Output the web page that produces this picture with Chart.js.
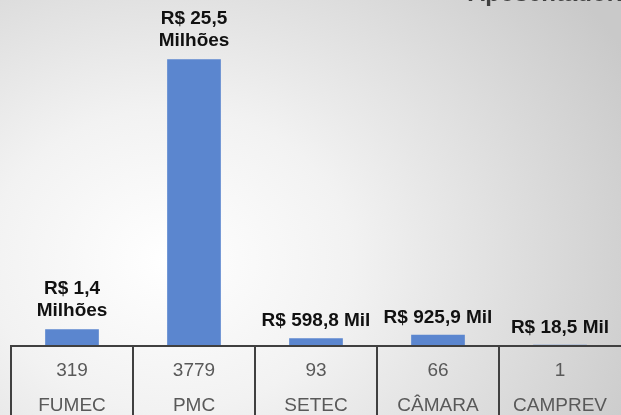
<!DOCTYPE html>
<html>
<head>
<meta charset="utf-8">
<script src="https://cdn.jsdelivr.net/npm/chart.js@4"></script>
<style>
  html, body { margin: 0; padding: 0; }
  body {
    width: 621px; height: 415px; overflow: hidden;
    background: radial-gradient(ellipse 520px 430px at 170px 260px, #ffffff 0%, #f2f2f2 35%, #c9c9c9 100%);
  }
  #wrap { width: 621px; height: 415px; }
</style>
</head>
<body>
<div id="wrap"><canvas id="c"></canvas></div>
<script>
const orgaos = ['FUMEC', 'PMC', 'SETEC', 'CÂMARA', 'CAMPREV'];
const valores = [1.4, 25.5, 0.5988, 0.9259, 0.0185]; // milhões de R$
const quantidades = ['319', '3779', '93', '66', '1'];
const rotulos = [['R$ 1,4', 'Milhões'], ['R$ 25,5', 'Milhões'], ['R$ 598,8 Mil'], ['R$ 925,9 Mil'], ['R$ 18,5 Mil']];

const tabela = {
  id: 'tabela',
  afterDatasetsDraw(chart) {
    const ctx = chart.ctx;
    const x = chart.scales.x;
    const area = chart.chartArea;
    const meta = chart.getDatasetMeta(0);
    ctx.save();

    // rótulos dos valores
    ctx.fillStyle = '#111111';
    ctx.font = 'bold 19px "Liberation Sans", Arial, sans-serif';
    ctx.textAlign = 'center';
    ctx.textBaseline = 'alphabetic';
    meta.data.forEach((bar, i) => {
      const linhas = rotulos[i];
      let y = bar.y - (i < 2 ? 13 : 12);
      for (let k = linhas.length - 1; k >= 0; k--) {
        ctx.fillText(linhas[k], bar.x, y);
        y -= 22;
      }
    });

    // grade da tabela
    const w = (x.getPixelForValue(1) - x.getPixelForValue(0));
    ctx.strokeStyle = '#404040';
    ctx.lineWidth = 2;
    ctx.beginPath();
    ctx.moveTo(area.left, area.bottom + 1);
    ctx.lineTo(chart.width, area.bottom + 1);
    for (let i = 0; i < orgaos.length; i++) {
      const xl = x.getPixelForValue(i) - w / 2;
      ctx.moveTo(xl, area.bottom);
      ctx.lineTo(xl, chart.height);
    }
    ctx.stroke();

    ctx.fillStyle = '#595959';
    ctx.font = '19px "Liberation Sans", Arial, sans-serif';
    ctx.textBaseline = 'middle';
    orgaos.forEach((o, i) => {
      const cx = x.getPixelForValue(i);
      ctx.fillText(quantidades[i], cx, area.bottom + 26);
      ctx.fillText(o, cx, area.bottom + 61);
    });

    // título (cortado no topo)
    ctx.fillStyle = '#404040';
    ctx.font = 'bold 24px "Liberation Sans", Arial, sans-serif';
    ctx.textAlign = 'left';
    ctx.textBaseline = 'alphabetic';
    ctx.fillText('Aposentadoria', 468, 1);
    ctx.restore();
  }
};

new Chart(document.getElementById('c'), {
  type: 'bar',
  data: {
    labels: orgaos,
    datasets: [{
      data: valores,
      backgroundColor: '#5B86CF',
      barPercentage: 0.44,
      categoryPercentage: 1.0
    }]
  },
  options: {
    responsive: true,
    maintainAspectRatio: false,
    animation: false,
    layout: { padding: { left: 11, right: 0, top: 0, bottom: 70 } },
    plugins: { legend: { display: false }, tooltip: { enabled: false } },
    scales: {
      x: { display: false },
      y: { display: false, min: 0, max: 30.8 }
    }
  },
  plugins: [tabela]
});
</script>
</body>
</html>
